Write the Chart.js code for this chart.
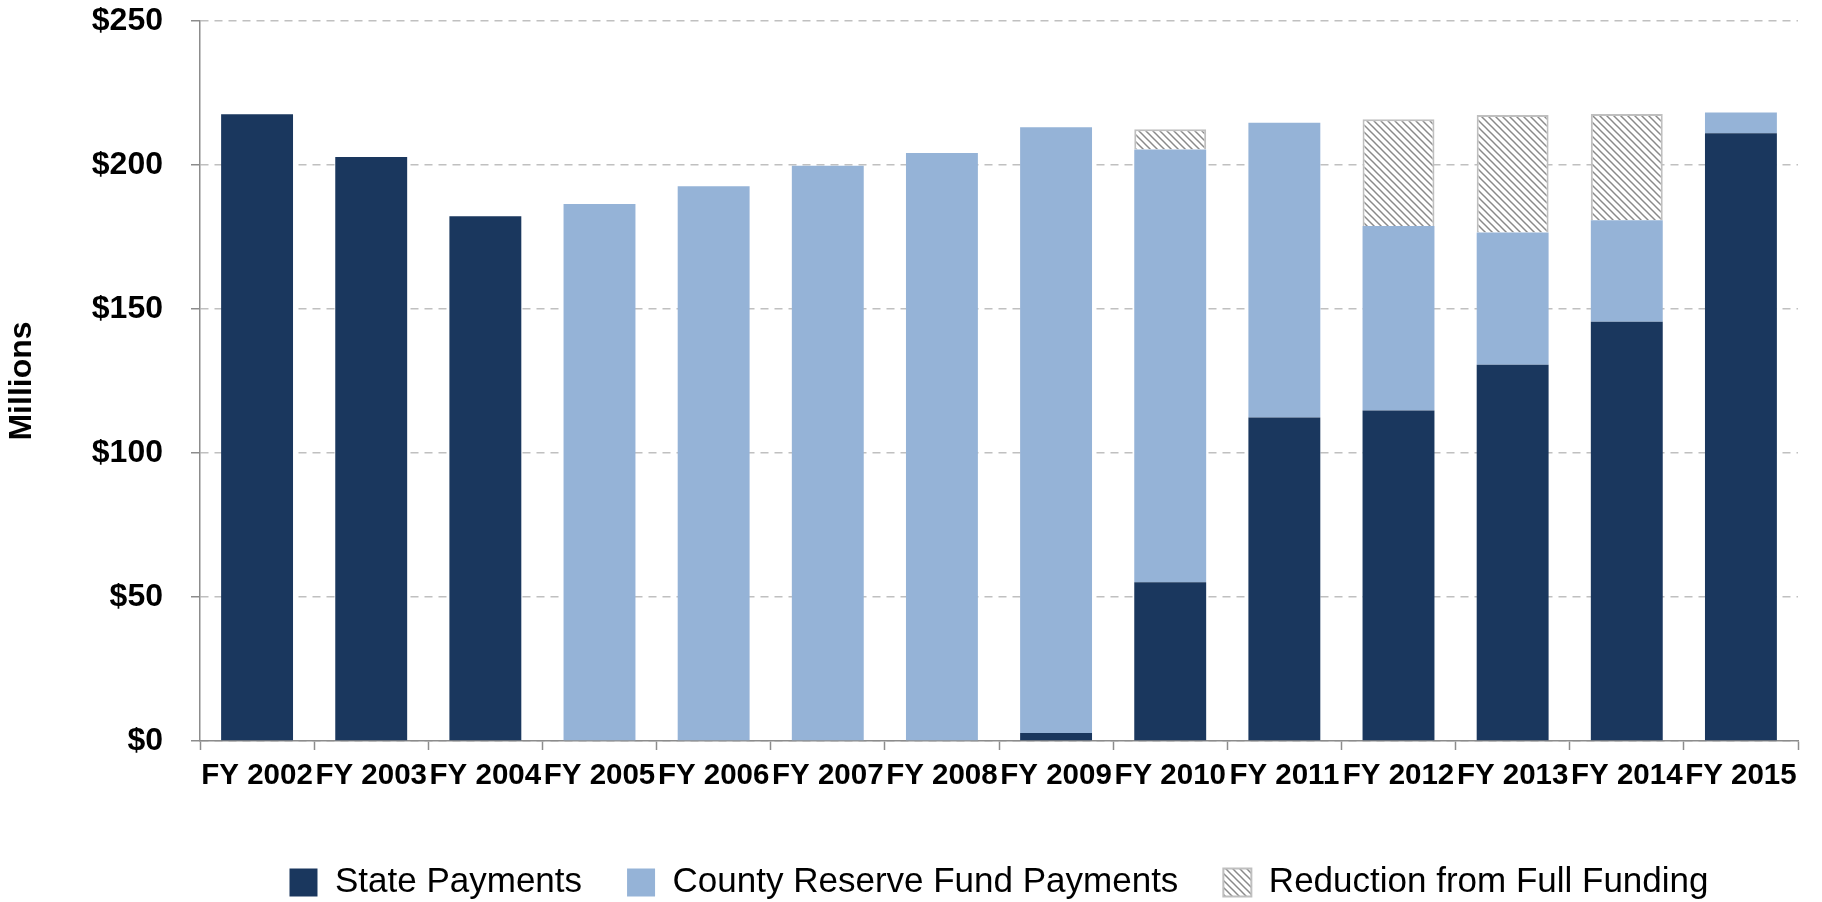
<!DOCTYPE html>
<html>
<head>
<meta charset="utf-8">
<script src="https://cdn.jsdelivr.net/npm/chart.js@4.4.1/dist/chart.umd.min.js"></script>
<style>
  html, body { margin: 0; padding: 0; background: #ffffff; }
  #wrap { width: 1822px; height: 902px; }
</style>
</head>
<body>
<div id="wrap"><canvas id="c" width="1822" height="902"></canvas></div>
<script>
// ---- Data ($ millions) ----
const categories = ['FY 2002','FY 2003','FY 2004','FY 2005','FY 2006','FY 2007','FY 2008',
                    'FY 2009','FY 2010','FY 2011','FY 2012','FY 2013','FY 2014','FY 2015'];
const statePayments = [217.6, 202.8, 182.2, 0, 0, 0, 0, 2.8, 55.1, 112.3, 114.8, 130.6, 145.6, 211.0];
const countyReservePayments = [0, 0, 0, 186.5, 192.6, 199.7, 204.2, 210.3, 150.3, 102.4, 64.0, 46.0, 35.2, 7.2];
const reductionFromFullFunding = [null, null, null, null, null, null, null, null, 7.0, null, 37.1, 40.8, 36.9, null];
const seriesNames = ['State Payments', 'County Reserve Fund Payments', 'Reduction from Full Funding'];
const yTickValues = [0, 50, 100, 150, 200, 250];
const yAxisTitle = 'Millions';

// ---- Styles ----
const FONT = "'Liberation Sans', Arial, Helvetica, sans-serif";
const COLOR_STATE = '#1a375e';
const COLOR_COUNTY = '#95b3d7';

function makeHatch() {
  const s = 7;
  const c = document.createElement('canvas');
  c.width = s; c.height = s;
  const g = c.getContext('2d');
  g.fillStyle = '#ffffff';
  g.fillRect(0, 0, s, s);
  g.strokeStyle = '#8a8a8a';
  g.lineWidth = 1.5;
  for (const off of [-s, 0, s]) {
    g.beginPath();
    g.moveTo(-1, -1 + off);
    g.lineTo(s + 1, s + 1 + off);
    g.stroke();
  }
  return g.createPattern(c, 'repeat');
}
const hatch = makeHatch();

const legendCenterOnPlot = {
  id: 'legendCenterOnPlot',
  afterLayout(chart) {
    const lg = chart.legend;
    if (!lg) return;
    const ca = chart.chartArea;
    const dx = (ca.left + ca.right) / 2 - (lg.left + lg.right) / 2;
    lg.left += dx;
    lg.right += dx;
  }
};

new Chart(document.getElementById('c'), {
  type: 'bar',
  data: {
    labels: categories,
    datasets: [
      { label: seriesNames[0], data: statePayments, backgroundColor: COLOR_STATE, borderWidth: 0 },
      { label: seriesNames[1], data: countyReservePayments, backgroundColor: COLOR_COUNTY, borderWidth: 0 },
      { label: seriesNames[2], data: reductionFromFullFunding, backgroundColor: hatch,
        borderColor: '#bfbfbf', borderWidth: 2 }
    ]
  },
  plugins: [legendCenterOnPlot],
  options: {
    responsive: false,
    animation: false,
    devicePixelRatio: 1,
    layout: { padding: { top: 21, right: 24, bottom: 0, left: 0 } },
    datasets: { bar: { categoryPercentage: 1.0, barPercentage: 0.63 } },
    plugins: {
      tooltip: { enabled: false },
      legend: {
        position: 'bottom',
        maxHeight: 82,
        labels: {
          font: { family: FONT, size: 35 },
          color: '#000000',
          boxWidth: 28,
          boxHeight: 28,
          padding: 45
        }
      }
    },
    scales: {
      x: {
        stacked: true,
        afterFit(scale) { scale.height = 79; },
        grid: {
          display: true,
          drawOnChartArea: false,
          drawTicks: true,
          tickLength: 9,
          tickColor: '#8c8c8c',
          tickWidth: 1.5,
          offset: true
        },
        border: { display: true, color: '#8c8c8c', width: 1.5 },
        ticks: {
          autoSkip: false,
          maxRotation: 0,
          minRotation: 0,
          padding: 8,
          color: '#000000',
          font: { family: FONT, size: 29.5, weight: 'bold' }
        }
      },
      y: {
        stacked: true,
        min: 0,
        max: 250,
        afterFit(scale) {
          scale.width = 200;
          scale.paddingTop = 12;
          scale.paddingBottom = 12;
        },
        afterBuildTicks(scale) { scale.ticks = yTickValues.map(v => ({ value: v })); },
        grid: {
          color: '#c0c0c0',
          lineWidth: 1.5,
          drawTicks: true,
          tickLength: 9,
          tickColor: '#8c8c8c',
          tickWidth: 1.5,
          tickBorderDash: []
        },
        border: { display: true, color: '#8c8c8c', width: 1.5, dash: [8, 6] },
        title: {
          display: true,
          text: yAxisTitle,
          color: '#000000',
          padding: { top: 3, bottom: 0 },
          font: { family: FONT, size: 32, weight: 'bold' }
        },
        ticks: {
          padding: 28,
          color: '#000000',
          font: { family: FONT, size: 32, weight: 'bold' },
          callback: (v) => '$' + v
        }
      }
    }
  }
});
</script>
</body>
</html>
